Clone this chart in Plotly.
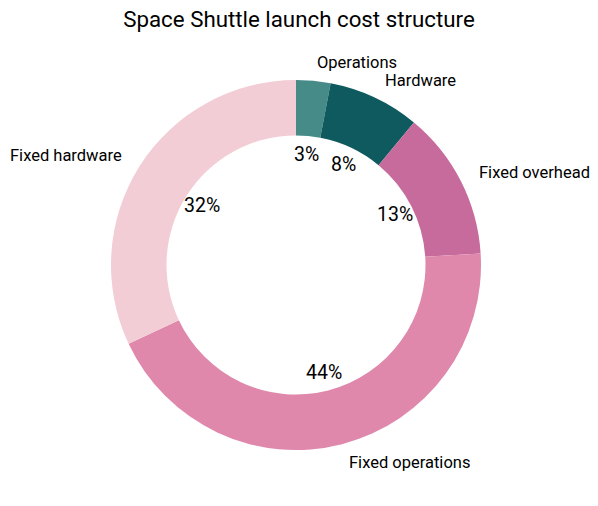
import numpy as np
import plotly.graph_objects as go

# Dati: struttura dei costi di lancio
categories = ["Operations", "Hardware", "Fixed overhead", "Fixed operations", "Fixed hardware"]
shares = [3, 8, 13, 44, 32]
colors = ["#468b87", "#0e5a5e", "#c76b9d", "#df88ac", "#f2cdd5"]

W, H = 598, 506
off = 8  # margine del body della pagina
cx, cy, R = 296 - off, 265 - off, 185  # centro e raggio in pixel

fig = go.Figure(go.Pie(
    labels=categories, values=shares, sort=False, direction="clockwise",
    rotation=0, hole=0.7, textinfo="none", hoverinfo="label+percent",
    marker=dict(colors=colors, line=dict(width=0)),
    domain=dict(x=[(cx - R) / W, (cx + R) / W],
                y=[(H - cy - R) / H, (H - cy + R) / H]),
))

# Etichette e percentuali posizionate come in matplotlib
vals = np.array(shares, dtype=float)
cum = np.cumsum(vals) - vals / 2
theta = 2 * np.pi * cum / vals.sum()
for lab, v, t in zip(categories, vals, theta):
    s, c = np.sin(t), np.cos(t)
    fig.add_annotation(x=(cx + 1.1 * R * s) / W, y=(H - cy + 1.1 * R * c) / H,
                       xref="paper", yref="paper", text=lab, showarrow=False,
                       xanchor="left" if s > 0 else "right", yanchor="middle",
                       font=dict(size=16.5, color="black"))
    fig.add_annotation(x=(cx + 0.6 * R * s) / W, y=(H - cy + 0.6 * R * c) / H,
                       xref="paper", yref="paper", text=f"{v / vals.sum() * 100:.0f}%",
                       showarrow=False, xanchor="center", yanchor="middle",
                       font=dict(size=19.5, color="black"))

fig.update_layout(
    width=W, height=H, margin=dict(l=0, r=0, t=0, b=0),
    paper_bgcolor="white", showlegend=False,
    font=dict(family="Roboto"),
    title=dict(text="Space Shuttle launch cost structure", x=(299 - off) / W,
               xanchor="center", y=1 - (19 - off) / H, yanchor="middle",
               yref="container", font=dict(size=22.3, color="black")),
)

fig.write_html("out.html")
